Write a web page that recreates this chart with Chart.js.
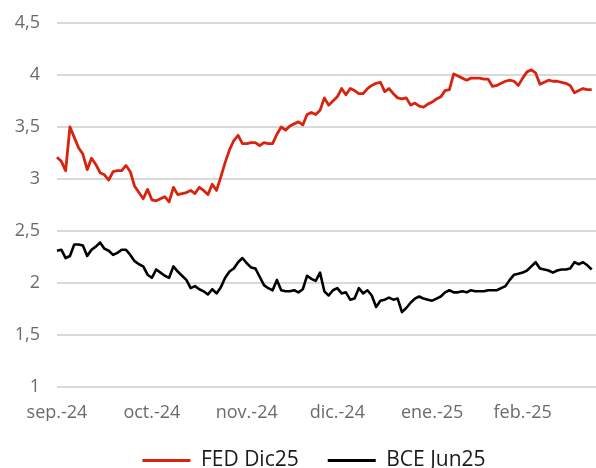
<!DOCTYPE html>
<html>
<head>
<meta charset="utf-8">
<script src="https://cdn.jsdelivr.net/npm/chart.js@4.4.1/dist/chart.umd.min.js"></script>
<style>
  html, body { margin: 0; padding: 0; background: #fff; }
  #wrap { width: 596px; height: 468px; position: relative; }
</style>
</head>
<body>
<div id="wrap"><canvas id="chart"></canvas></div>
<script>
// month tick labels and the index of the first point of each month
const monthNames = ['sep.-24', 'oct.-24', 'nov.-24', 'dic.-24', 'ene.-25', 'feb.-25'];
const monthStart = [0, 22, 44, 65, 87, 108];

// implied rates (one value per trading day)
const fedDic25 = [
  3.21, 3.17, 3.08, 3.50, 3.40, 3.30, 3.24, 3.09, 3.20, 3.14,
  3.06, 3.04, 2.99, 3.07, 3.08, 3.08, 3.13, 3.07, 2.93, 2.87,
  2.81, 2.90, 2.80, 2.79, 2.81, 2.83, 2.78, 2.92, 2.85, 2.86,
  2.87, 2.89, 2.86, 2.92, 2.89, 2.85, 2.95, 2.89, 3.02, 3.16,
  3.28, 3.37, 3.42, 3.34, 3.34, 3.35, 3.35, 3.32, 3.35, 3.34,
  3.34, 3.43, 3.50, 3.47, 3.51, 3.53, 3.55, 3.52, 3.62, 3.64,
  3.62, 3.66, 3.78, 3.71, 3.75, 3.79, 3.87, 3.81, 3.87, 3.85,
  3.82, 3.82, 3.87, 3.90, 3.92, 3.93, 3.84, 3.87, 3.82, 3.78,
  3.77, 3.78, 3.71, 3.73, 3.70, 3.69, 3.72, 3.74, 3.77, 3.79,
  3.85, 3.86, 4.01, 3.99, 3.97, 3.95, 3.97, 3.97, 3.97, 3.96,
  3.96, 3.89, 3.90, 3.92, 3.94, 3.95, 3.94, 3.90, 3.97, 4.03,
  4.05, 4.02, 3.91, 3.93, 3.95, 3.94, 3.94, 3.93, 3.92, 3.90,
  3.83, 3.85, 3.87, 3.86, 3.86
];
const bceJun25 = [
  2.31, 2.32, 2.24, 2.26, 2.37, 2.37, 2.36, 2.26, 2.32, 2.35,
  2.39, 2.33, 2.31, 2.27, 2.29, 2.32, 2.32, 2.27, 2.21, 2.18,
  2.16, 2.08, 2.05, 2.13, 2.10, 2.07, 2.05, 2.16, 2.11, 2.07,
  2.03, 1.95, 1.97, 1.94, 1.92, 1.89, 1.94, 1.90, 1.96, 2.05,
  2.11, 2.14, 2.20, 2.24, 2.19, 2.15, 2.14, 2.06, 1.98, 1.95,
  1.93, 2.03, 1.93, 1.92, 1.92, 1.93, 1.91, 1.94, 2.07, 2.04,
  2.02, 2.10, 1.92, 1.88, 1.93, 1.95, 1.90, 1.91, 1.84, 1.85,
  1.95, 1.90, 1.93, 1.88, 1.77, 1.83, 1.84, 1.86, 1.84, 1.85,
  1.72, 1.76, 1.81, 1.85, 1.87, 1.85, 1.84, 1.83, 1.85, 1.87,
  1.91, 1.93, 1.91, 1.91, 1.92, 1.91, 1.93, 1.92, 1.92, 1.92,
  1.93, 1.93, 1.93, 1.95, 1.97, 2.03, 2.08, 2.09, 2.10, 2.12,
  2.16, 2.20, 2.14, 2.13, 2.12, 2.10, 2.12, 2.13, 2.13, 2.14,
  2.20, 2.18, 2.20, 2.17, 2.13
];

// one empty slot after the last day so the line stops just short of the edge
const labels = new Array(fedDic25.length + 1).fill('');
monthStart.forEach((idx, k) => { labels[idx] = monthNames[k]; });

const RED = '#d9230f';
const BLACK = '#000000';

// the legend in the original sits a bit right of the canvas centre
const legendShift = {
  id: 'legendShift',
  afterLayout(chart) {
    const lg = chart.legend;
    if (!lg) return;
    lg.left += 16;
    lg.right += 16;
  }
};

const ctx = document.getElementById('chart').getContext('2d');
new Chart(ctx, {
  type: 'line',
  data: {
    labels: labels,
    datasets: [
      {
        label: 'FED Dic25',
        data: fedDic25,
        borderColor: RED,
        backgroundColor: RED,
        borderWidth: 2.8,
        pointRadius: 0,
        tension: 0,
        borderJoinStyle: 'round'
      },
      {
        label: 'BCE Jun25',
        data: bceJun25,
        borderColor: BLACK,
        backgroundColor: BLACK,
        borderWidth: 2.6,
        pointRadius: 0,
        tension: 0,
        borderJoinStyle: 'round'
      }
    ]
  },
  options: {
    responsive: true,
    maintainAspectRatio: false,
    animation: false,
    layout: { padding: { top: 23, right: 0, bottom: 0, left: 0 } },
    plugins: {
      tooltip: { enabled: false },
      legend: {
        position: 'bottom',
        maxHeight: 47,
        labels: {
          boxWidth: 48,
          boxHeight: 3,
          padding: 29,
          color: '#1a1a1a',
          font: { family: 'Open Sans', size: 21 },
          // plain line sample, no border around the box
          generateLabels: (chart) =>
            Chart.defaults.plugins.legend.labels.generateLabels(chart)
              .map(item => ({ ...item, lineWidth: 0, fillStyle: item.strokeStyle }))
        }
      }
    },
    scales: {
      x: {
        grid: { display: false, drawTicks: false },
        border: { display: false },
        afterFit: (scale) => {
          scale.height = 34;
          scale.paddingLeft = 0;
          scale.paddingRight = 0;
        },
        ticks: {
          autoSkip: false,
          maxRotation: 0,
          minRotation: 0,
          padding: 15,
          color: '#6b6b6b',
          font: { family: 'Open Sans', size: 18 }
        }
      },
      y: {
        min: 1,
        max: 4.5,
        border: { display: false },
        grid: { color: '#d9d9d9', lineWidth: 2, drawTicks: false },
        afterFit: (scale) => {
          scale.width = 57;
          scale.paddingTop = 0;
          scale.paddingBottom = 0;
        },
        ticks: {
          stepSize: 0.5,
          padding: 17,
          color: '#6b6b6b',
          font: { family: 'Open Sans', size: 18 },
          callback: (v) => String(v).replace('.', ',')
        }
      }
    }
  },
  plugins: [legendShift]
});
</script>
</body>
</html>
